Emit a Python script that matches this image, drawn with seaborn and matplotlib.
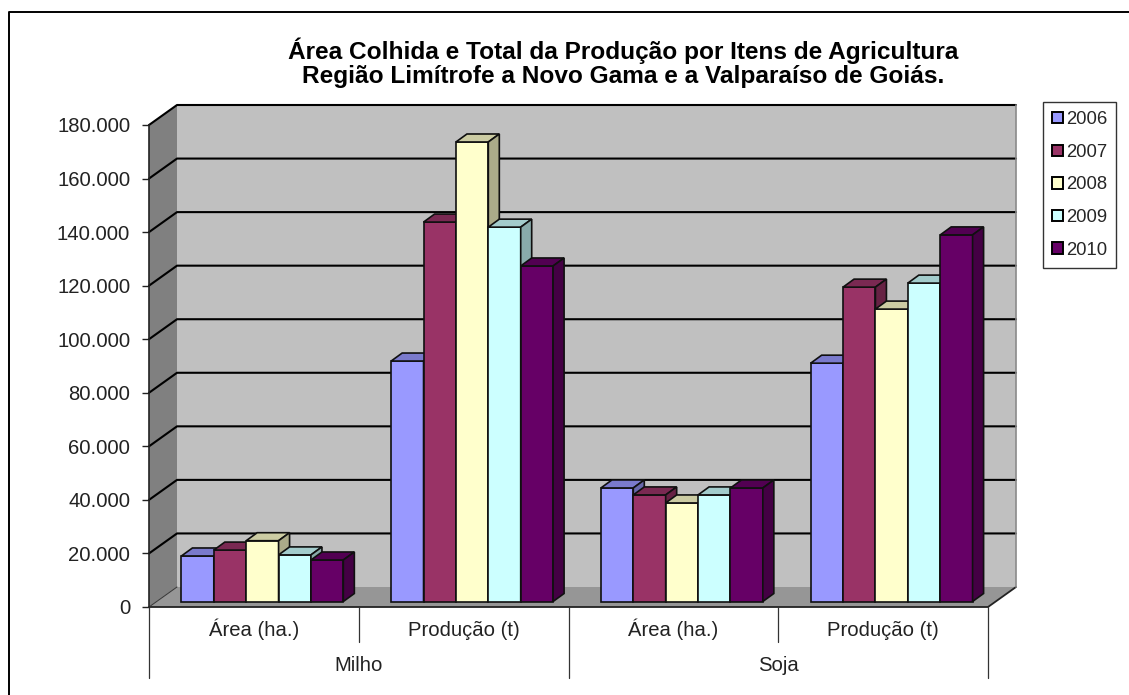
import numpy as np
import pandas as pd
import matplotlib
matplotlib.use("Agg")
import matplotlib.pyplot as plt
import seaborn as sns
from matplotlib.lines import Line2D
from matplotlib.patches import Polygon
from matplotlib.transforms import Affine2D
from matplotlib.ticker import FuncFormatter

# =====================================================
# DATA
# =====================================================

years = ["2006", "2007", "2008", "2009", "2010"]
colors = ["#9999FF", "#993366", "#FFFFCC", "#CCFFFF", "#660066"]

items = ["Área (ha.)", "Produção (t)", "Área (ha.)", "Produção (t)"]
crops = ["Milho", "Soja"]

milho_area = [17000, 19200, 22700, 17400, 15500]
milho_prod = [89800, 141700, 171600, 139800, 125300]
soja_area = [42400, 39800, 36800, 39800, 42400]
soja_prod = [89000, 117400, 109200, 118900, 136900]

y_ticks = list(range(0, 180001, 20000))

title_lines = "Área Colhida e Total da Produção por Itens de Agricultura\nRegião Limítrofe a Novo Gama e a Valparaíso de Goiás."

# =====================================================
# CONFIG
# =====================================================

W, H = 1129, 695
DPI = 100

# pixel offsets of the 3D look
WALL_DX, WALL_DY = 28, 20
BAR_DX, BAR_DY = 8.5, 5.5
DEPTH_DX, DEPTH_DY = 11, 8

sns.set_style("white")
plt.rcParams["font.family"] = ["Liberation Sans", "DejaVu Sans"]

rows = []
for group, values in enumerate([milho_area, milho_prod, soja_area, soja_prod]):
    for year, value in zip(years, values):
        rows.append({"group": group, "year": year, "value": value})
df = pd.DataFrame(rows)

fig = plt.figure(figsize=(W / DPI, H / DPI), dpi=DPI)
fig.patch.set_facecolor("white")
ax = fig.add_axes([149 / W, 1 - 607 / H, 839 / W, 482 / H])
ax.patch.set_visible(False)

# =====================================================
# BARS
# =====================================================

sns.barplot(
    data=df,
    x="group",
    y="value",
    hue="year",
    palette=colors,
    width=0.772,
    gap=0,
    saturation=1,
    dodge=True,
    legend=True,
    ax=ax,
)

ax.set_xlim(-0.5, 3.5)
ax.set_ylim(0, 180000)
x0, x1 = ax.get_xlim()

fig.canvas.draw()
bar_trans = ax.transData + Affine2D().translate(BAR_DX, BAR_DY)

# =====================================================
# WALLS AND FLOOR
# =====================================================

to_px = ax.transData.transform
front_bl = to_px((x0, 0))
front_br = to_px((x1, 0))
front_tl = to_px((x0, 180000))
front_tr = to_px((x1, 180000))
off = np.array([WALL_DX, WALL_DY])


def wall(points, color, z=0.5):
    ax.add_patch(Polygon(points, closed=True, facecolor=color, edgecolor="none",
                         transform=None, zorder=z, clip_on=False))


wall([front_bl + off, front_br + off, front_tr + off, front_tl + off], "#C0C0C0")
wall([front_bl, front_bl + off, front_tl + off, front_tl], "#808080")
wall([front_bl, front_br, front_br + off, front_bl + off], "#969696")

# gridlines run across the side wall and the back wall
for value in y_ticks[1:]:
    p = to_px((x0, value))
    q = to_px((x1, value))
    ax.plot([p[0], p[0] + off[0], q[0] + off[0]],
            [p[1], p[1] + off[1], q[1] + off[1]],
            color="black", lw=1.5, transform=None, zorder=1, clip_on=False)

# floor outline
ax.plot([front_bl[0], front_br[0], front_br[0] + off[0]],
        [front_bl[1], front_br[1], front_br[1] + off[1]],
        color="#222222", lw=1.3, transform=None, zorder=1, clip_on=False)
ax.plot([front_br[0] + off[0], front_tr[0] + off[0]],
        [front_br[1] + off[1], front_tr[1] + off[1]],
        color="#8a8a8a", lw=1.2, transform=None, zorder=1, clip_on=False)
ax.plot([front_bl[0], front_bl[0] + off[0]], [front_bl[1], front_bl[1] + off[1]],
        color="#333333", lw=0.7, transform=None, zorder=1, clip_on=False)

# =====================================================
# 3D BAR FACES
# =====================================================


def shade(color, k):
    r, g, b = matplotlib.colors.to_rgb(color)
    return (r * k, g * k, b * k)


for i, container in enumerate(ax.containers):
    for bar in container:
        bar.set_transform(bar_trans)
        bar.set_edgecolor("#101010")
        bar.set_linewidth(1.2)
        bar.set_clip_on(False)
        bar.set_zorder(3 + i)
        left, right = bar.get_x(), bar.get_x() + bar.get_width()
        top = bar.get_height()
        a = bar_trans.transform((left, top))
        b = bar_trans.transform((right, top))
        c = bar_trans.transform((right, 0))
        d = np.array([DEPTH_DX, DEPTH_DY])
        base = bar.get_facecolor()
        ax.add_patch(Polygon([a, b, b + d, a + d], closed=True, transform=None,
                             facecolor=shade(base, 0.8), edgecolor="#101010",
                             lw=1.2, zorder=3 + i, clip_on=False))
        ax.add_patch(Polygon([b, c, c + d, b + d], closed=True, transform=None,
                             facecolor=shade(base, 0.67), edgecolor="#101010",
                             lw=1.2, zorder=3 + i, clip_on=False))

# =====================================================
# AXES AND LABELS
# =====================================================

ax.set_xlabel("")
ax.set_ylabel("")
ax.set_xticks([])
ax.set_yticks(y_ticks)
ax.yaxis.set_major_formatter(FuncFormatter(lambda v, _: f"{int(v):,}".replace(",", ".")))
ax.tick_params(axis="y", left=True, length=5, width=1.0, color="#222222",
               labelsize=14.6, labelcolor="#222222", pad=8.5)
sns.despine(ax=ax, top=True, right=True, bottom=True, left=False)
ax.spines["left"].set_linewidth(1.2)
ax.spines["left"].set_color("#222222")
ax.spines["left"].set_zorder(2)

# two-level category axis under the chart
level = ax.get_xaxis_transform()
for x in [0.5, 2.5]:
    ax.plot([x, x], [0, -35 / 482], color="#333333", lw=0.9, transform=level, clip_on=False)
for x in [-0.5, 1.5, 3.5]:
    ax.plot([x, x], [0, -71 / 482], color="#333333", lw=0.9, transform=level, clip_on=False)

for i, label in enumerate(items):
    ax.text(i, -29 / 482, label, transform=level, ha="center", va="baseline",
            fontsize=14.6, color="#222222")
for i, crop in enumerate(crops):
    ax.text(0.5 + 2 * i, -64 / 482, crop, transform=level, ha="center", va="baseline",
            fontsize=14.6, color="#222222")

fig.text(623 / W, 1 - 63 / H, title_lines, ha="center", va="center", fontsize=17.6,
         fontweight="bold", color="black", linespacing=1.05)

# =====================================================
# LEGEND
# =====================================================

leg = ax.legend(
    loc="upper left",
    bbox_to_anchor=(1043 / W, 1 - 102 / H),
    bbox_transform=fig.transFigure,
    fontsize=13.3,
    frameon=True,
    fancybox=False,
    edgecolor="#333333",
    framealpha=1,
    handlelength=0.57,
    handleheight=0.57,
    handletextpad=0.16,
    labelspacing=0.845,
    borderpad=0.5,
    borderaxespad=0,
    title=None,
)
leg.set_zorder(10)
leg.get_frame().set_linewidth(1.0)
for handle in leg.legend_handles:
    handle.set_edgecolor("black")
    handle.set_linewidth(1.4)

# only the top and left edges of the picture frame are visible
fig.add_artist(Line2D([9 / W, 9 / W, 1], [0, 1 - 12 / H, 1 - 12 / H],
                      transform=fig.transFigure, color="black", lw=1.4))

fig.savefig("out.png", dpi=DPI)
